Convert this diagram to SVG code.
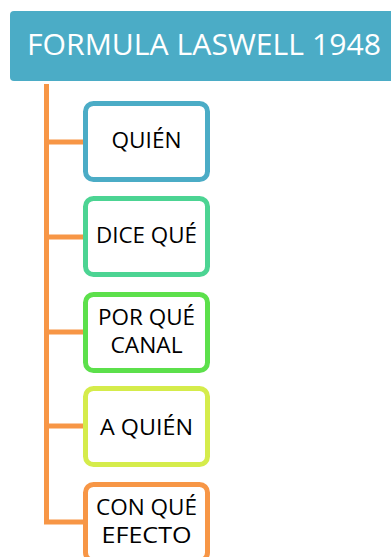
<svg xmlns="http://www.w3.org/2000/svg" width="391" height="557" viewBox="0 0 391 557">
<style>
.box{fill:#ffffff;stroke-width:5}
.lbl{font-family:"Open Sans","Liberation Sans",sans-serif;font-size:21px;fill:#000000;text-anchor:middle}
.conn{stroke:#F79646;stroke-width:5;fill:none}
</style>
<rect width="391" height="557" fill="#ffffff"/>
<g id="header">
<rect x="10" y="11" width="400" height="70" rx="4" fill="#4BACC6"/>
<text x="204" y="55" font-family="Open Sans, Liberation Sans, sans-serif" font-size="30" fill="#ffffff" text-anchor="middle" textLength="354" lengthAdjust="spacingAndGlyphs">FORMULA LASWELL 1948</text>
</g>
<g id="connectors">
<path class="conn" d="M46.5 84 V522 H83"/>
<path class="conn" d="M46.5 142 H83"/>
<path class="conn" d="M46.5 237 H83"/>
<path class="conn" d="M46.5 332 H83"/>
<path class="conn" d="M46.5 426 H83"/>
</g>
<g id="n1">
<rect class="box" x="85.5" y="103.5" width="122" height="76" rx="8" stroke="#4BACC6"/>
<text class="lbl" x="146.5" y="148" textLength="70" lengthAdjust="spacingAndGlyphs">QUIÉN</text>
</g>
<g id="n2">
<rect class="box" x="85.5" y="198.5" width="122" height="76" rx="8" stroke="#4CD493"/>
<text class="lbl" x="146.5" y="243" textLength="101" lengthAdjust="spacingAndGlyphs">DICE QUÉ</text>
</g>
<g id="n3">
<rect class="box" x="85.5" y="294.5" width="122" height="76" rx="8" stroke="#5CE04B"/>
<text class="lbl" x="146.5" y="325" textLength="97" lengthAdjust="spacingAndGlyphs">POR QUÉ</text>
<text class="lbl" x="146.5" y="353" textLength="72" lengthAdjust="spacingAndGlyphs">CANAL</text>
</g>
<g id="n4">
<rect class="box" x="85.5" y="388.5" width="122" height="76" rx="8" stroke="#D5EC4B"/>
<text class="lbl" x="146.5" y="435" textLength="93" lengthAdjust="spacingAndGlyphs">A QUIÉN</text>
</g>
<g id="n5">
<rect class="box" x="85.5" y="484.5" width="122" height="76" rx="8" stroke="#F79646"/>
<text class="lbl" x="146.5" y="515" textLength="101" lengthAdjust="spacingAndGlyphs">CON QUÉ</text>
<text class="lbl" x="146.5" y="543" textLength="90" lengthAdjust="spacingAndGlyphs">EFECTO</text>
</g>
</svg>
